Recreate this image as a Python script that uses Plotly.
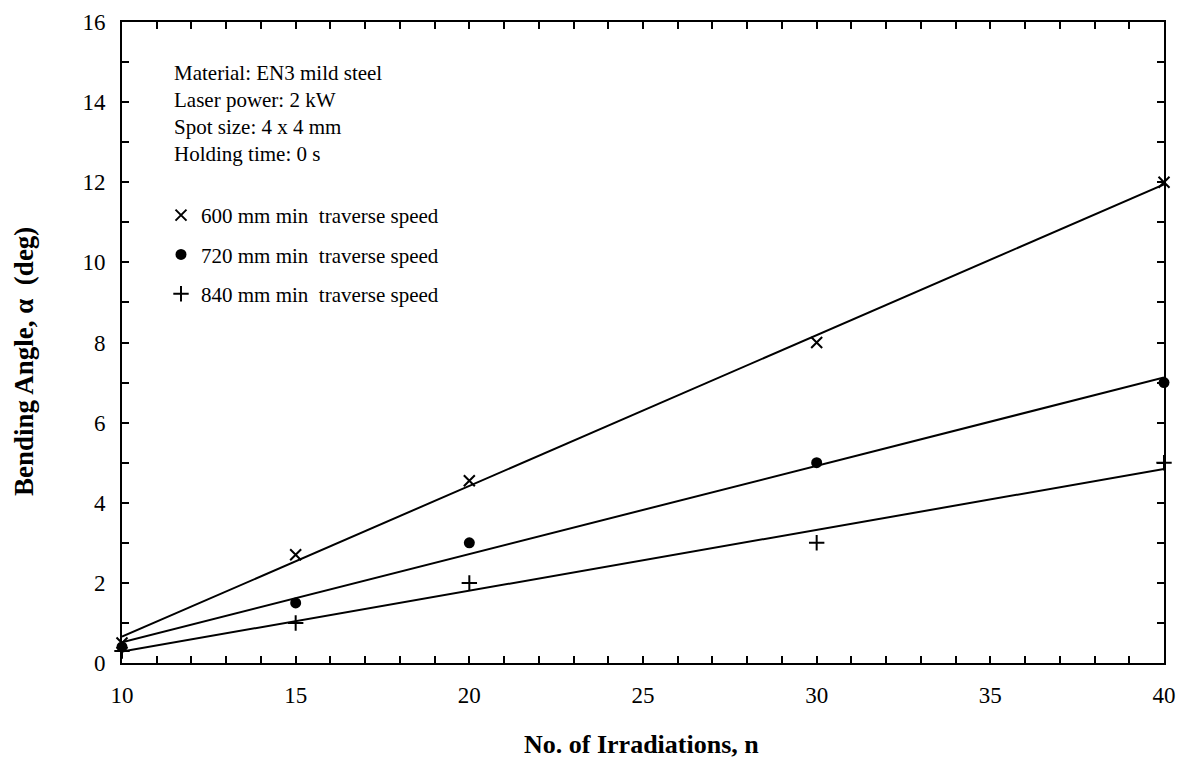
import numpy as np
import plotly.graph_objects as go

irradiations = [10, 15, 20, 30, 40]
angle_600 = [0.5, 2.7, 4.55, 8.0, 12.0]
angle_720 = [0.4, 1.5, 3.0, 5.0, 7.0]
angle_840 = [0.3, 1.0, 2.0, 3.0, 5.0]
series_names = ["600 mm min  traverse speed", "720 mm min  traverse speed", "840 mm min  traverse speed"]
info_lines = ["Material: EN3 mild steel", "Laser power: 2 kW", "Spot size: 4 x 4 mm", "Holding time: 0 s"]

FONT = "Liberation Serif"
W, H = 1187, 763
L, R, T, B = 122, 23, 22, 100

fig = go.Figure()

markers = [
    dict(symbol="x-thin-open", size=11, color="black", line=dict(width=2, color="black")),
    dict(symbol="circle", size=11, color="black", line=dict(width=0)),
    dict(symbol="cross-thin-open", size=11, color="black", line=dict(width=2, color="black")),
]
series = [angle_600, angle_720, angle_840]

x_arr = np.array(irradiations, dtype=float)
x_fit = np.array([min(irradiations), max(irradiations)], dtype=float)
for ys in series:
    k, b = np.polyfit(x_arr, np.array(ys), 1)
    fig.add_trace(go.Scatter(x=x_fit, y=k * x_fit + b, mode="lines",
                             line=dict(color="black", width=2), showlegend=False,
                             hoverinfo="skip"))

for i, (ys, mk, name) in enumerate(zip(series, markers, series_names)):
    fig.add_trace(go.Scatter(x=irradiations, y=ys, mode="markers", marker=mk,
                             name=name, legendgroup=f"g{i}", cliponaxis=False))

axis_common = dict(
    showline=True, linecolor="black", linewidth=2, mirror="allticks",
    ticks="inside", ticklen=7, tickwidth=2, tickcolor="black",
    showgrid=False, zeroline=False,
    tickfont=dict(family=FONT, size=23, color="black"),
)

fig.update_xaxes(range=[10, 40], tick0=10, dtick=5, ticklabelstandoff=10,
                 minor=dict(dtick=1, ticks="inside", ticklen=7, tickwidth=2, tickcolor="black", showgrid=False),
                 **axis_common)
fig.update_yaxes(range=[0, 16], tick0=0, dtick=2, ticklabelstandoff=10,
                 minor=dict(dtick=1, ticks="inside", ticklen=7, tickwidth=2, tickcolor="black", showgrid=False),
                 **axis_common)

plot_h = H - T - B
plot_w = W - L - R
def py(pix):
    return (H - B - pix) / plot_h
def px(pix):
    return (pix - L) / plot_w

annotations = []
for i, line in enumerate(info_lines):
    annotations.append(dict(text=line, xref="paper", yref="paper", x=px(172), y=py(73 + 27 * i),
                            xanchor="left", yanchor="middle", showarrow=False,
                            font=dict(family=FONT, size=21, color="black")))
annotations.append(dict(text="<b>No. of Irradiations, n</b>", xref="paper", yref="paper",
                        x=px(641), y=py(744), xanchor="center", yanchor="middle", showarrow=False,
                        font=dict(family=FONT, size=26, color="black")))
annotations.append(dict(text="<b>Bending Angle, α  (deg)</b>", xref="paper", yref="paper",
                        x=px(24), y=py(362), xanchor="center", yanchor="middle", showarrow=False,
                        textangle=-90, font=dict(family=FONT, size=27, color="black")))

fig.update_layout(
    width=W, height=H,
    margin=dict(l=L, r=R, t=T, b=B, autoexpand=False),
    paper_bgcolor="white", plot_bgcolor="white",
    showlegend=True,
    legend=dict(x=px(161), y=py(195), xanchor="left", yanchor="top",
                font=dict(family=FONT, size=21, color="black"),
                bgcolor="rgba(0,0,0,0)", borderwidth=0,
                tracegroupgap=9, itemsizing="trace"),
    annotations=annotations,
)

fig.write_html("out.html", config={"displayModeBar": False},
               post_script="document.body.style.margin='0';document.body.style.overflow='hidden';")
